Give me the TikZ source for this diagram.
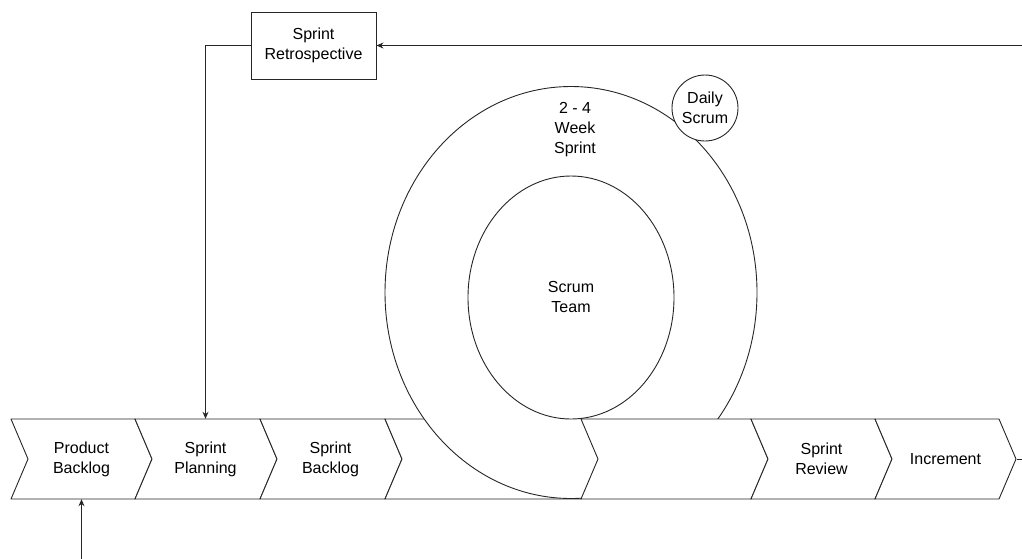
\documentclass[tikz,border=0pt]{standalone}
\usepackage{fontspec}
\setmainfont{Liberation Sans}
\usetikzlibrary{arrows.meta,positioning,calc}

\begin{document}
\begin{tikzpicture}[
  x=1pt, y=-1pt,
  font=\fontsize{16}{20}\selectfont,
  chev/.style={draw=black!85, line width=0.9pt, fill=white, line join=round},
  loopline/.style={draw=black!85, line width=0.9pt, fill=white},
  lbl/.style={minimum width=124pt, minimum height=80pt, inner sep=0pt, align=center},
  box/.style={draw=black!85, line width=0.9pt, fill=white, minimum width=125pt,
              minimum height=67pt, inner sep=0pt, align=center},
  arr/.style={-{Stealth[length=7pt,width=6pt]}, draw=black!85, line width=0.9pt},
]
\useasboundingbox (0,0) rectangle (1022,558);

% strip, left part
\foreach \xl/\w in {11/124, 135/125, 260/125, 385/196}
  \draw[chev] (\xl,419) -- ++(\w,0) -- ++(17,40) -- ++(-17,40) -- ++(-\w,0) -- ++(17,-40) -- cycle;

% sprint loop
\draw[loopline] (571,292.5) ellipse [x radius=186pt, y radius=206pt];
\draw[loopline] (571,297.5) ellipse [x radius=103pt, y radius=121.5pt];

% strip, right part
\foreach \xl/\w in {581/170, 751/124, 875/124}
  \draw[chev] (\xl,419) -- ++(\w,0) -- ++(17,40) -- ++(-17,40) -- ++(-\w,0) -- ++(17,-40) -- cycle;

\node[lbl] (pb) at (81.5,459) {Product\\Backlog};
\node[lbl] (sp) at (205.5,459) {Sprint\\Planning};
\node[lbl] (sb) at (330.5,459) {Sprint\\Backlog};
\node[lbl] (sr) at (821.5,459) {Sprint\\Review};
\node[lbl] (inc) at (945.5,459) {Increment};

\node[align=center] (sprint) at (575,130) {2 - 4\\Week\\Sprint};
\node[align=center] (team) at (571,297) {Scrum\\Team};
\node[circle, draw=black!85, line width=0.9pt, fill=white, minimum size=66pt,
      inner sep=0pt, align=center] (daily) at (705,108) {Daily\\Scrum};

\node[box] (retro) at (313.5,45.5) {Sprint\\Retrospective};

\coordinate (inctip) at (1017,459);
\coordinate (feedback) at (1040,459);
\coordinate (pbin) at (81.5,575);

\draw[arr] (retro.west) -| (sp.north);
\draw[arr] (inctip) -- (feedback) |- (retro.east);
\draw[arr] (pbin) -- (pb.south);
\end{tikzpicture}
\end{document}
